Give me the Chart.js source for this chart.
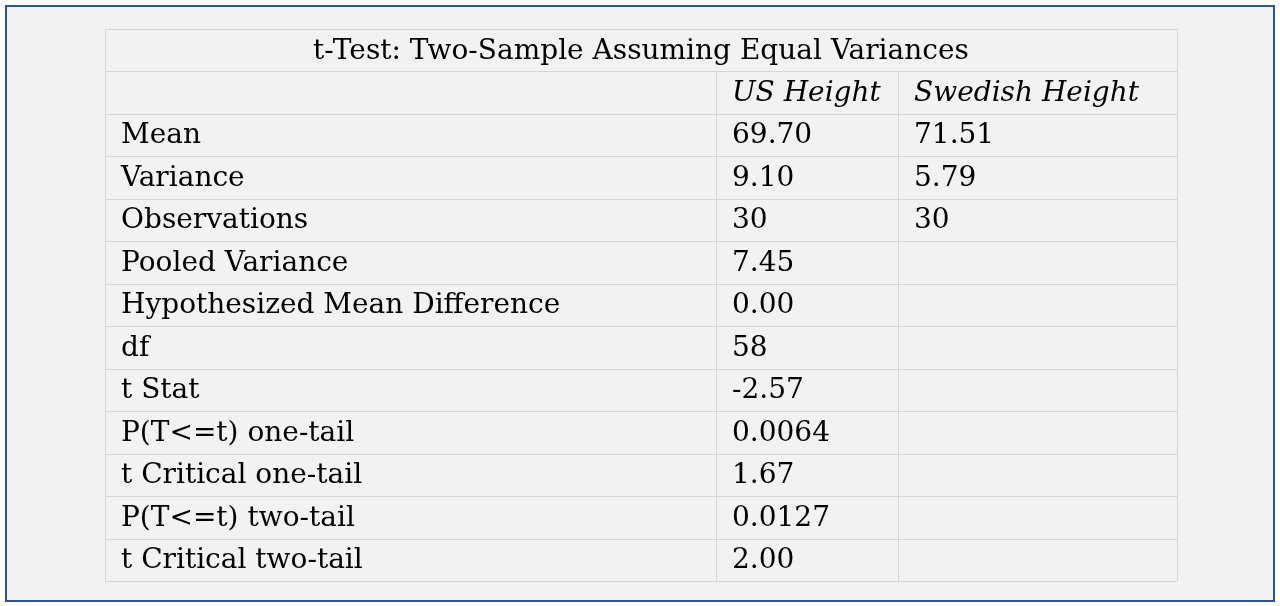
<!DOCTYPE html>
<html><head><meta charset="utf-8">
<script src="https://cdn.jsdelivr.net/npm/chart.js"></script>
<style>
html,body{margin:0;padding:0;background:#fff;}
#wrap{position:absolute;left:5px;top:5px;width:1266px;height:593px;border:2px solid #2f5597;background:#f2f2f2;}
canvas{position:absolute;left:0;top:0;}
</style></head><body>
<div id="wrap"></div>
<canvas id="c" width="1280" height="606"></canvas>
<script>
const title = "t-Test: Two-Sample Assuming Equal Variances";
const columns = ["", "US Height", "Swedish Height"];
const rowLabels = ["Mean","Variance","Observations","Pooled Variance","Hypothesized Mean Difference","df","t Stat","P(T<=t) one-tail","t Critical one-tail","P(T<=t) two-tail","t Critical two-tail"];
const usValues = ["69.70","9.10","30","7.45","0.00","58","-2.57","0.0064","1.67","0.0127","2.00"];
const swValues = ["71.51","5.79","30","","","","","","","",""];
const colEdges = [0, 611, 793, 1072];
const FONT = '28px "DejaVu Serif", Georgia, serif';
const ITFONT = 'italic 28px "DejaVu Serif", Georgia, serif';

const tablePlugin = {
  id:'table',
  afterDraw(chart){
    const ctx = chart.ctx, xs = chart.scales.x, ys = chart.scales.y;
    const nRows = rowLabels.length + 2;
    const X = v => xs.getPixelForValue(v), Y = v => ys.getPixelForValue(v);
    ctx.save();
    ctx.strokeStyle = '#d6d6d6'; ctx.lineWidth = 1;
    for (let r=0;r<=nRows;r++){ ctx.beginPath(); ctx.moveTo(X(0),Math.round(Y(r))+0.5); ctx.lineTo(X(1072),Math.round(Y(r))+0.5); ctx.stroke(); }
    colEdges.forEach((e,i)=>{ ctx.beginPath(); const y0 = (i===0||i===3)?Y(0):Y(1); ctx.moveTo(Math.round(X(e))+0.5,y0); ctx.lineTo(Math.round(X(e))+0.5,Y(nRows)); ctx.stroke(); });
    ctx.fillStyle = '#000'; ctx.textBaseline = 'middle';
    ctx.font = FONT; ctx.textAlign = 'center';
    ctx.fillText(title, (X(0)+X(1072))/2, (Y(0)+Y(1))/2+1);
    ctx.textAlign = 'left';
    ctx.font = ITFONT;
    ctx.fillText(columns[1], X(colEdges[1])+16, (Y(1)+Y(2))/2+1);
    ctx.fillText(columns[2], X(colEdges[2])+16, (Y(1)+Y(2))/2+1);
    ctx.font = FONT;
    rowLabels.forEach((lab,i)=>{
      const yc = (Y(i+2)+Y(i+3))/2+1;
      ctx.fillText(lab, X(0)+16, yc);
      ctx.fillText(usValues[i], X(colEdges[1])+16, yc);
      ctx.fillText(swValues[i], X(colEdges[2])+16, yc);
    });
    ctx.restore();
  }
};

new Chart(document.getElementById('c'), {
  type:'scatter',
  data:{datasets:[{data:[]}]},
  options:{
    responsive:false, animation:false, devicePixelRatio:1,
    layout:{padding:{left:105,right:103,top:29,bottom:25}},
    plugins:{legend:{display:false},tooltip:{enabled:false}},
    scales:{
      x:{type:'linear',min:0,max:1072,display:false},
      y:{type:'linear',min:0,max:13,reverse:true,display:false}
    }
  },
  plugins:[tablePlugin]
});
</script></body></html>
